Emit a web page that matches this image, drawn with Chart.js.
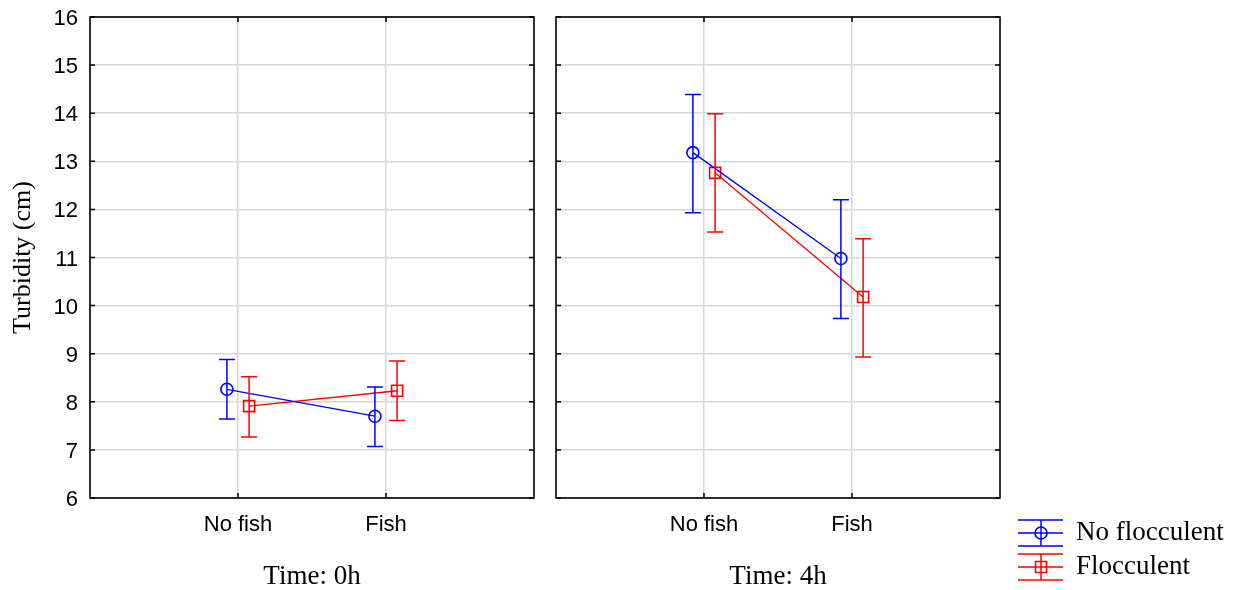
<!DOCTYPE html>
<html><head><meta charset="utf-8">
<script src="https://cdn.jsdelivr.net/npm/chart.js@4.4.1/dist/chart.umd.min.js"></script>
<style>
html,body{margin:0;padding:0;background:#fff;width:1238px;height:590px;overflow:hidden}
canvas{position:absolute;top:0}
#c1{left:0}
#c2{left:545px}
</style></head><body>
<canvas id="c1" width="545" height="590"></canvas>
<canvas id="c2" width="693" height="590"></canvas>
<script>
const categories = ['No fish', 'Fish'];
const panelTitles = ['Time: 0h', 'Time: 4h'];
const seriesNames = ['No flocculent', 'Flocculent'];
const yAxisTitle = 'Turbidity (cm)';
const yTicks = [6, 7, 8, 9, 10, 11, 12, 13, 14, 15, 16];

// Time: 0h
const noFloc0   = [8.26, 7.70];
const noFloc0Lo = [7.64, 7.07];
const noFloc0Hi = [8.88, 8.31];
const floc0     = [7.91, 8.23];
const floc0Lo   = [7.27, 7.61];
const floc0Hi   = [8.52, 8.85];

// Time: 4h
const noFloc4   = [13.18, 10.98];
const noFloc4Lo = [11.93, 9.73];
const noFloc4Hi = [14.39, 12.20];
const floc4     = [12.76, 10.18];
const floc4Lo   = [11.53, 8.93];
const floc4Hi   = [13.99, 11.39];

const BLUE = '#0000ff', RED = '#ff0000';
const OFFSET = 0.075;
const SANS = "'Liberation Sans', Arial, sans-serif";
const SERIF = "'Liberation Serif', 'Times New Roman', serif";

Chart.defaults.color = '#000';
Chart.defaults.font.family = SANS;

function ds(label, vals, lo, hi, color, style, radius, off) {
  return {
    label, errLo: lo, errHi: hi,
    data: vals.map((v, i) => ({x: i + 1 + off, y: v})),
    borderColor: color, backgroundColor: 'rgba(0,0,0,0)',
    borderWidth: 1.3, pointStyle: style, pointRadius: radius,
    pointBorderWidth: 1.6, pointBorderColor: color, pointBackgroundColor: 'rgba(0,0,0,0)',
    showLine: true, tension: 0
  };
}

const errPlugin = {
  id: 'errbars',
  afterDatasetsDraw(chart) {
    const {ctx, scales} = chart;
    ctx.save();
    chart.data.datasets.forEach((d, di) => {
      const meta = chart.getDatasetMeta(di);
      ctx.strokeStyle = d.borderColor;
      ctx.lineWidth = 1.5;
      ctx.beginPath();
      meta.data.forEach((pt, i) => {
        const x = pt.x;
        const y1 = scales.y.getPixelForValue(d.errLo[i]);
        const y2 = scales.y.getPixelForValue(d.errHi[i]);
        ctx.moveTo(x, y1); ctx.lineTo(x, y2);
        ctx.moveTo(x - 8, y1); ctx.lineTo(x + 8, y1);
        ctx.moveTo(x - 8, y2); ctx.lineTo(x + 8, y2);
      });
      ctx.stroke();
    });
    ctx.restore();
  }
};

const framePlugin = {
  id: 'frame',
  afterDraw(chart) {
    const {ctx, chartArea: a, scales} = chart;
    ctx.save();
    ctx.strokeStyle = '#000';
    ctx.lineWidth = 1.6;
    ctx.strokeRect(a.left, a.top, a.right - a.left, a.bottom - a.top);
    ctx.lineWidth = 1.5;
    ctx.beginPath();
    yTicks.forEach(v => {
      const y = scales.y.getPixelForValue(v);
      ctx.moveTo(a.left, y); ctx.lineTo(a.left + 5, y);
      ctx.moveTo(a.right, y); ctx.lineTo(a.right - 5, y);
    });
    categories.forEach((c, i) => {
      const x = scales.x.getPixelForValue(i + 1);
      ctx.moveTo(x, a.bottom); ctx.lineTo(x, a.bottom - 5);
      ctx.moveTo(x, a.top); ctx.lineTo(x, a.top + 5);
    });
    ctx.stroke();
    ctx.restore();
  }
};

const legendPlugin = {
  id: 'customLegend',
  afterDraw(chart) {
    const {ctx, chartArea: a} = chart;
    const items = [
      {label: seriesNames[0], color: BLUE, style: 'circle', y: 533},
      {label: seriesNames[1], color: RED, style: 'square', y: 567}
    ];
    ctx.save();
    items.forEach(it => {
      const x0 = a.right + 18, x1 = a.right + 63, xc = a.right + 41;
      ctx.strokeStyle = it.color;
      ctx.lineWidth = 1.5;
      ctx.beginPath();
      [-13, 0, 13].forEach(dy => { ctx.moveTo(x0, it.y + dy); ctx.lineTo(x1, it.y + dy); });
      ctx.moveTo(xc, it.y - 13); ctx.lineTo(xc, it.y + 13);
      ctx.stroke();
      ctx.lineWidth = 1.6;
      ctx.beginPath();
      if (it.style === 'circle') ctx.arc(xc, it.y, 6, 0, Math.PI * 2);
      else ctx.rect(xc - 5.5, it.y - 5.5, 11, 11);
      ctx.stroke();
      ctx.fillStyle = '#000';
      ctx.font = '27px ' + SERIF;
      ctx.textBaseline = 'middle';
      ctx.textAlign = 'left';
      ctx.fillText(it.label, a.right + 76, it.y);
    });
    ctx.restore();
  }
};

function makeChart(id, datasets, title, isLeft) {
  return new Chart(document.getElementById(id), {
    type: 'scatter',
    data: {datasets},
    plugins: isLeft ? [errPlugin, framePlugin] : [errPlugin, framePlugin, legendPlugin],
    options: {
      responsive: false,
      animation: false,
      layout: {padding: {left: 0, right: isLeft ? 11 : 238, top: 17, bottom: 0}},
      plugins: {legend: {display: false}, tooltip: {enabled: false}},
      scales: {
        x: {
          type: 'linear', min: 0, max: 3,
          afterBuildTicks: s => { s.ticks = categories.map((c, i) => ({value: i + 1})); },
          afterFit: s => { s.height = 92; s.paddingLeft = 0; s.paddingRight = 0; },
          ticks: {
            autoSkip: false, maxRotation: 0, padding: 14,
            font: {size: 22, family: SANS}, color: '#000',
            callback: v => categories[Math.round(v) - 1]
          },
          grid: {color: '#d6d6d6', lineWidth: 1.5, drawTicks: false},
          border: {display: false},
          title: {display: true, text: title, font: {size: 27, family: SERIF, lineHeight: 1}, color: '#000', padding: {top: 0, bottom: 0}}
        },
        y: {
          min: 6, max: 16,
          afterBuildTicks: s => { s.ticks = yTicks.map(v => ({value: v})); },
          afterFit: s => { s.width = isLeft ? 90 : 11; s.paddingTop = 0; s.paddingBottom = 0; },
          ticks: {
            display: isLeft, padding: 12, labelOffset: 2,
            font: {size: 22, family: SANS}, color: '#000'
          },
          grid: {color: '#d6d6d6', lineWidth: 1.5, drawTicks: false},
          border: {display: false},
          title: {display: isLeft, text: yAxisTitle, font: {size: 26, family: SERIF}, color: '#000', padding: {top: 8, bottom: 0}}
        }
      }
    }
  });
}

makeChart('c1', [
  ds(seriesNames[0], noFloc0, noFloc0Lo, noFloc0Hi, BLUE, 'circle', 6, -OFFSET),
  ds(seriesNames[1], floc0, floc0Lo, floc0Hi, RED, 'rect', 7.8, OFFSET)
], panelTitles[0], true);

makeChart('c2', [
  ds(seriesNames[0], noFloc4, noFloc4Lo, noFloc4Hi, BLUE, 'circle', 6, -OFFSET),
  ds(seriesNames[1], floc4, floc4Lo, floc4Hi, RED, 'rect', 7.8, OFFSET)
], panelTitles[1], false);
</script>
</body></html>
